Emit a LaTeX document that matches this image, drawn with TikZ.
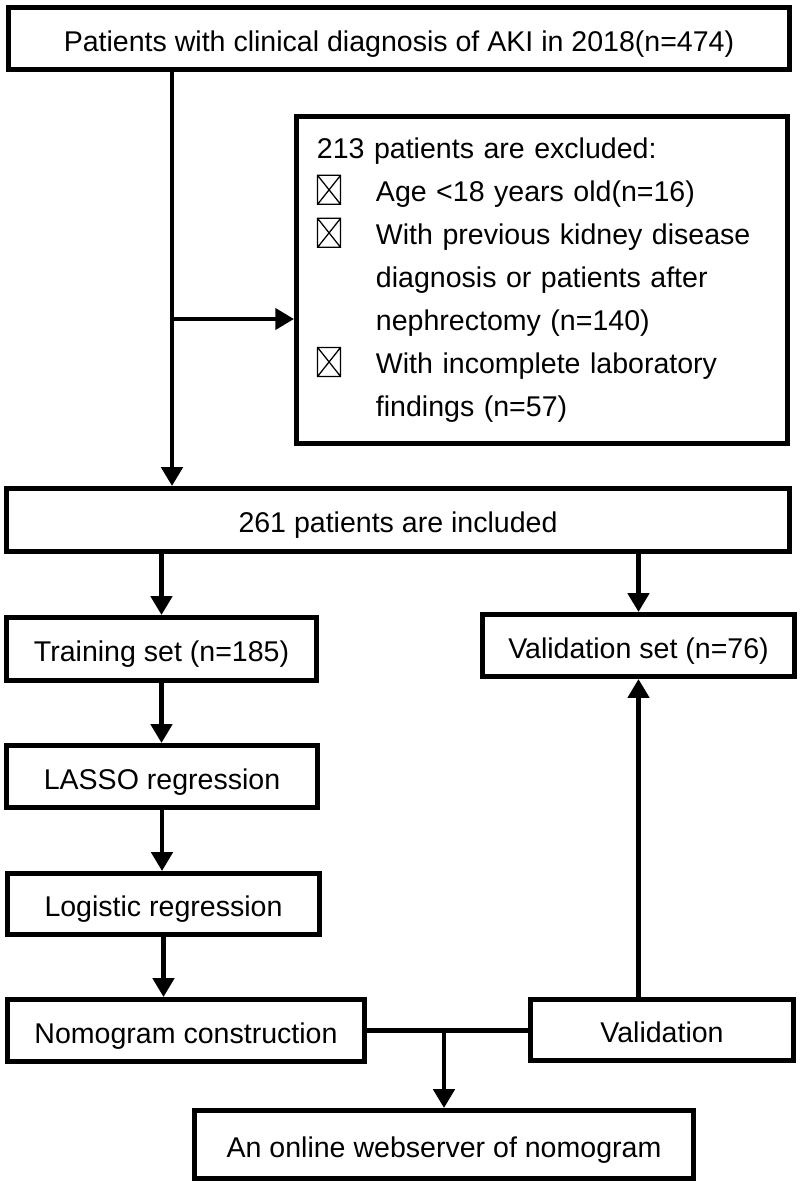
\documentclass[tikz,border=0pt]{standalone}
\usepackage{fontspec}
\setmainfont{Liberation Sans}
\usetikzlibrary{arrows.meta}

\newcommand{\chkx}{\makebox[1.475cm][l]{\tikz[baseline=0pt]{\draw[line width=0.9pt] (0.075cm,-0.075cm) rectangle (0.65cm,0.65cm) (0.075cm,-0.075cm) -- (0.65cm,0.65cm) (0.075cm,0.65cm) -- (0.65cm,-0.075cm);}}}
\newcommand{\chkskip}{\hspace*{1.475cm}}

\tikzset{
  frame/.style={draw, line width=3.5pt, inner sep=0pt, font=\fontsize{20.3}{30.6}\selectfont},
  flowbox/.style={frame, align=center, text height=0.64cm, text depth=0cm},
  link/.style={line width=3.5pt},
  arr/.style={line width=3.5pt, -{Triangle[length=0.47cm,width=0.52cm]}},
}

\begin{document}
\begin{tikzpicture}[x=0.025cm, y=-0.025cm]
        \useasboundingbox (0,0) rectangle (800,1185);
        \node[flowbox, minimum width=19.525cm, minimum height=1.55cm] (pat) at (399,38.5) {Patients with clinical diagnosis of AKI in 2018(n=474)};
        \node[frame, align=left, text width=11.25cm, inner xsep=0.51cm, minimum height=8.175cm] (excl) at (542,280) {213 patients are excluded:\\
          \chkx Age <18 years old(n=16)\\
          \chkx With previous kidney disease\\
          \chkskip diagnosis or patients after\\
          \chkskip nephrectomy (n=140)\\
          \chkx With incomplete laboratory\\
          \chkskip findings (n=57)};
        \node[flowbox, minimum width=19.575cm, minimum height=1.575cm] (incl) at (398,520) {261 patients are included};
        \node[flowbox, minimum width=7.75cm, minimum height=1.575cm] (train) at (161.5,649) {Training set (n=185)};
        \node[flowbox, minimum width=7.8cm, minimum height=1.55cm] (valset) at (638.5,645.5) {Validation set (n=76)};
        \node[flowbox, minimum width=7.775cm, minimum height=1.55cm] (lasso) at (162,776.5) {LASSO regression};
        \node[flowbox, minimum width=7.8cm, minimum height=1.525cm] (logit) at (163.5,904) {Logistic regression};
        \node[flowbox, minimum width=8.925cm, minimum height=1.55cm] (nomo) at (186,1030.5) {Nomogram construction};
        \node[flowbox, minimum width=6.575cm, minimum height=1.525cm] (valid) at (662,1030) {Validation};
        \node[flowbox, minimum width=12.475cm, minimum height=1.7cm] (web) at (444,1144.5) {An online webserver of nomogram};
        \coordinate (split) at (172,319);
        \draw[link] (pat.south -| split) -- (split);
        \draw[arr] (split) -- (split -| excl.west);
        \draw[arr] (split) -- (split |- incl.north);
        \draw[arr] (incl.south -| train) -- (train.north);
        \draw[arr] (incl.south -| valset) -- (valset.north);
        \draw[arr] (train.south) -- (train.south |- lasso.north);
        \draw[arr] (lasso.south) -- (lasso.south |- logit.north);
        \draw[arr] (logit.south) -- (logit.south |- nomo.north);
        \draw[arr] (valid.north -| valset) -- (valset.south);
        \draw[link] (nomo.east) -- (nomo.east -| valid.west);
        \draw[arr] (nomo.east -| web) -- (web.north);
      \end{tikzpicture}
\end{document}
